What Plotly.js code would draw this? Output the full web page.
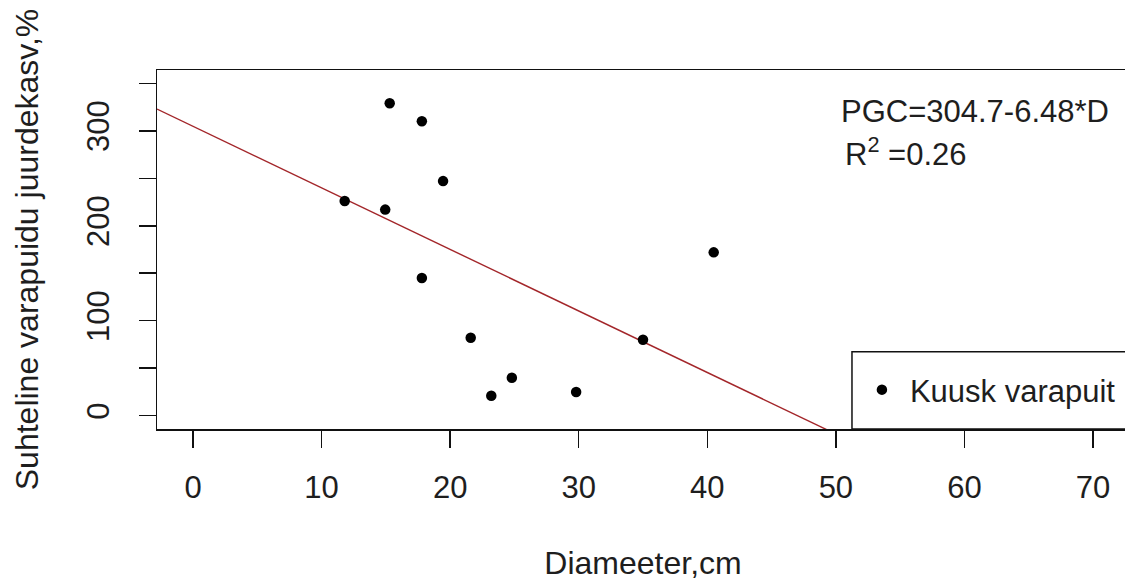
<!DOCTYPE html>
<html>
<head>
<meta charset="utf-8">
<script src="https://cdn.plot.ly/plotly-3.0.1.min.js"></script>
<style>
html,body{margin:0;padding:0;overflow:hidden;background:#fff;width:1125px;height:584px;}
#chart{width:1130px;height:584px;}
</style>
</head>
<body>
<div id="chart"></div>
<script>
// Data
const diameter = [11.8, 15.3, 14.95, 17.8, 17.8, 19.45, 21.6, 23.2, 24.8, 29.8, 35.0, 40.5];
const growth   = [226, 329, 217, 310, 145, 247, 82, 21, 40, 25, 80, 172];
const seriesName = "Kuusk varapuit";
const fitIntercept = 304.7;
const fitSlope = -6.48;
const fitX = [-2.8, 72.8];
const xTickVals = [0, 10, 20, 30, 40, 50, 60, 70];
const yTickVals = [0, 50, 100, 150, 200, 250, 300, 350];
const yTickText = ["0", "", "100", "", "200", "", "300", ""];
const xTitle = "Diameeter,cm";
const yTitle = "Suhteline varapuidu juurdekasv,%";
const eqText = "PGC=304.7-6.48*D";
const r2Text = "R<sup>2</sup> =0.26";

const FONT = '"Liberation Sans", Arial, sans-serif';
const TXT = '#1e1e1e';

const fitY = fitX.map(x => fitIntercept + fitSlope * x);

const traces = [
  {
    x: fitX, y: fitY, mode: 'lines', type: 'scatter',
    line: {color: '#a3262a', width: 1.4},
    showlegend: false, hoverinfo: 'skip', cliponaxis: true
  },
  {
    x: diameter, y: growth, mode: 'markers', type: 'scatter',
    name: seriesName,
    marker: {color: '#000', size: 10.5, symbol: 'circle'},
    showlegend: true
  }
];

const layout = {
  width: 1130, height: 584,
  margin: {l: 157, r: 1, t: 70, b: 155, pad: 0},
  paper_bgcolor: '#fff', plot_bgcolor: '#fff',
  font: {family: FONT, size: 31, color: TXT},
  showlegend: true,
  legend: {
    x: 0.717, xanchor: 'left', y: 0.1086, yanchor: 'middle',
    bgcolor: 'rgba(0,0,0,0)', borderwidth: 0,
    font: {family: FONT, size: 31, color: TXT},
    itemwidth: 46
  },
  xaxis: {
    range: [-2.8, 72.8], tickmode: 'array', tickvals: xTickVals,
    ticks: 'outside', ticklen: 17, tickwidth: 1.5, tickcolor: '#111',
    ticklabelstandoff: 13,
    showline: true, linecolor: '#111', linewidth: 1.5, mirror: true,
    showgrid: false, zeroline: false,
    tickfont: {family: FONT, size: 31, color: TXT},
    title: {text: xTitle, font: {family: FONT, size: 32, color: TXT}, standoff: 48}
  },
  yaxis: {
    range: [-14, 364], tickmode: 'array', tickvals: yTickVals, ticktext: yTickText,
    tickangle: -90,
    ticks: 'outside', ticklen: 17, tickwidth: 1.5, tickcolor: '#111',
    ticklabelstandoff: 17,
    showline: true, linecolor: '#111', linewidth: 1.5, mirror: true,
    showgrid: false, zeroline: false,
    tickfont: {family: FONT, size: 31, color: TXT},
    title: {text: yTitle, font: {family: FONT, size: 32, color: TXT}, standoff: 33}
  },
  shapes: [
    {type: 'rect', xref: 'paper', yref: 'paper', x0: 0.715, x1: 1.2, y0: 0, y1: 0.2153,
     line: {color: '#111', width: 1.5}, fillcolor: 'rgba(0,0,0,0)'}
  ],
  annotations: [
    {xref: 'paper', yref: 'paper', x: 0.7016, y: (429 - 111) / 359, xanchor: 'left', yanchor: 'middle',
     text: eqText, showarrow: false, font: {family: FONT, size: 31, color: TXT}},
    {xref: 'paper', yref: 'paper', x: 0.7057, y: (429 - 152) / 359, xanchor: 'left', yanchor: 'middle',
     text: r2Text, showarrow: false, font: {family: FONT, size: 31, color: TXT}}
  ]
};

Plotly.newPlot('chart', traces, layout, {displayModeBar: false, staticPlot: true});
</script>
</body>
</html>
